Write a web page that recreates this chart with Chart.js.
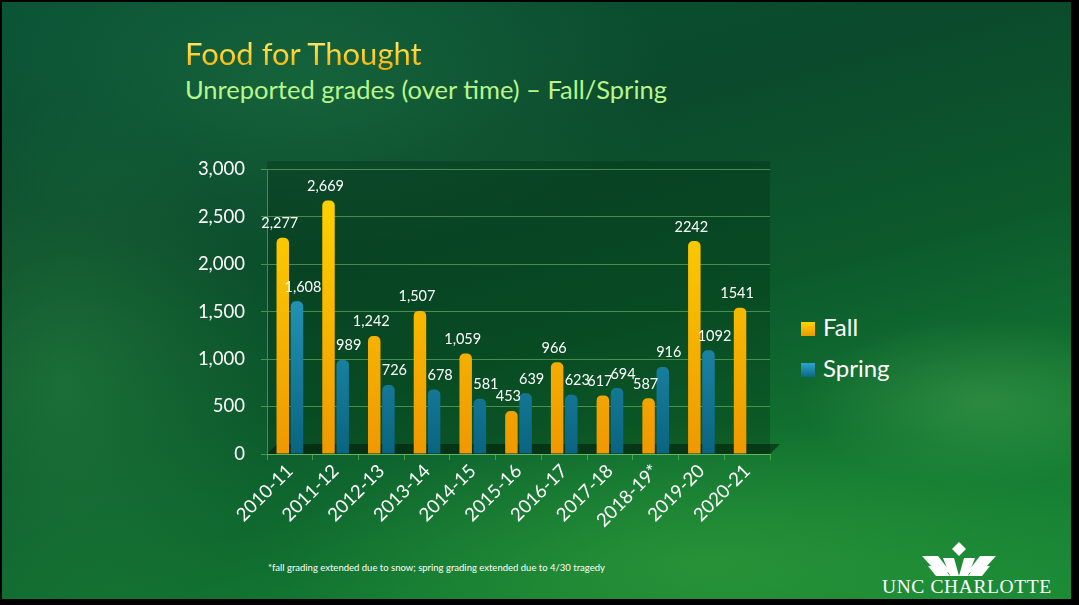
<!DOCTYPE html>
<html>
<head>
<meta charset="utf-8">
<script src="https://cdn.jsdelivr.net/npm/chart.js@4.4.0/dist/chart.umd.min.js"></script>
<style>
  html, body { margin: 0; padding: 0; background: #000; }
  #slide {
    position: absolute; left: 2px; top: 2px; width: 1069px; height: 597px; overflow: hidden;
    background:
      radial-gradient(ellipse 520px 260px at 300px 80px, rgba(40,140,80,0.35), rgba(0,0,0,0) 70%),
      radial-gradient(ellipse 600px 200px at 700px 560px, rgba(60,170,60,0.45), rgba(0,0,0,0) 70%),
      radial-gradient(ellipse 300px 400px at 60px 380px, rgba(50,150,70,0.4), rgba(0,0,0,0) 70%),
      radial-gradient(ellipse 260px 120px at 980px 400px, rgba(90,180,90,0.35), rgba(0,0,0,0) 70%),
      linear-gradient(165deg, #0a5236 0%, #0b4a2c 30%, #0c5a2c 55%, #137a32 80%, #1a8a36 100%);
    font-family: Lato, "Open Sans", sans-serif;
  }
  #title { position: absolute; left: 183px; top: 32px; font-size: 31px; color: #ffd23a;
    background: linear-gradient(180deg, #fff08a 0%, #ffd030 55%, #f0a400 100%);
    -webkit-background-clip: text; background-clip: text; -webkit-text-fill-color: transparent; }
  #subtitle { position: absolute; left: 183px; top: 72px; font-size: 25.5px; color: #b8f58c; }
  #wrap { position: absolute; left: 190px; top: 140px; width: 608px; height: 400px; }
  .leg { position: absolute; left: 799px; font-size: 24px; color: #fff; }
  .leg span { display: inline-block; width: 14px; height: 14px; margin-right: 8px; vertical-align: 0px; }
  #note { position: absolute; left: 266px; top: 560px; font-size: 9.5px; color: #fff; }
  #logo { position: absolute; left: 878px; top: 538px; width: 195px; height: 58px; }
  #logo div { position: absolute; left: 2px; top: 36px; font-family: "Liberation Serif", serif; font-size: 19.5px; color: #fff; letter-spacing: 0.6px; }
</style>
</head>
<body>
<div id="slide">
  <div id="title">Food for Thought</div>
  <div id="subtitle">Unreported grades (over time) – Fall/Spring</div>
  <div id="wrap"><canvas id="gradesChart"></canvas></div>
  <div class="leg" style="top:310px"><span style="background:linear-gradient(#ffd400,#e89a00)"></span>Fall</div>
  <div class="leg" style="top:351px"><span style="background:linear-gradient(#2aa6cc,#0b6784)"></span>Spring</div>
  <div id="note">*fall grading extended due to snow; spring grading extended due to 4/30 tragedy</div>
  <div id="logo">
    <svg width="195" height="38" viewBox="0 0 195 38">
      <polygon points="79,2 86,9 79,16 72,9" fill="#fff"/>
      <polygon points="63,18 74,18 79,36 70,36" fill="#fff"/>
      <polygon points="95,18 84,18 79,36 88,36" fill="#fff"/>
      <polygon points="42,16 58,16 72,34 52,27" fill="#fff"/>
      <polygon points="116,16 100,16 86,34 106,27" fill="#fff"/>
      <polygon points="48,26 62,26 70,36 56,36" fill="#fff"/>
      <polygon points="110,26 96,26 88,36 102,36" fill="#fff"/>
    </svg>
    <div>UNC CHARLOTTE</div>
  </div>
</div>

<script>
// chart data
const years = ['2010-11', '2011-12', '2012-13', '2013-14', '2014-15', '2015-16',
               '2016-17', '2017-18', '2018-19*', '2019-20', '2020-21'];
const fall = [2277, 2669, 1242, 1507, 1059, 453, 966, 617, 587, 2242, 1541];
const spring = [1608, 989, 726, 678, 581, 639, 623, 694, 916, 1092, null];
const yTicks = [0, 500, 1000, 1500, 2000, 2500, 3000];
const plainLabelsFrom = 9; // later years shown without thousands separator

function fmt(v, i) {
  return i >= plainLabelsFrom ? String(v) : v.toLocaleString('en-US');
}

function barGradient(ctx, top, bottom) {
  const area = ctx.chart.chartArea;
  if (!area) return top;
  const g = ctx.chart.ctx.createLinearGradient(0, area.top, 0, area.bottom);
  g.addColorStop(0, top);
  g.addColorStop(1, bottom);
  return g;
}

// darker back wall + floor strip
const wallPlugin = {
  id: 'wall',
  beforeDraw(chart) {
    const { ctx, chartArea: a } = chart;
    ctx.save();
    ctx.fillStyle = 'rgba(0, 35, 15, 0.28)';
    ctx.fillRect(a.left, a.top - 8, a.right - a.left, a.bottom - a.top + 8);
    ctx.fillStyle = 'rgba(0, 25, 10, 0.55)';
    ctx.beginPath();
    ctx.moveTo(a.left, a.bottom);
    ctx.lineTo(a.left + 10, a.bottom - 10);
    ctx.lineTo(a.right + 10, a.bottom - 10);
    ctx.lineTo(a.right, a.bottom);
    ctx.closePath();
    ctx.fill();
    ctx.restore();
  }
};

// value labels above the bars
const labelPlugin = {
  id: 'valueLabels',
  afterDatasetsDraw(chart) {
    const ctx = chart.ctx;
    ctx.save();
    ctx.font = '14.5px Lato, "Open Sans", sans-serif';
    ctx.fillStyle = '#ffffff';
    ctx.textAlign = 'center';
    ctx.textBaseline = 'bottom';
    chart.data.datasets.forEach((ds, di) => {
      const meta = chart.getDatasetMeta(di);
      meta.data.forEach((bar, i) => {
        const v = ds.data[i];
        if (v == null) return;
        const dx = di === 0 ? -3 : 6;
        ctx.fillText(fmt(v, i), bar.x + dx, bar.y - 7);
      });
    });
    ctx.restore();
  }
};

const data = {
  labels: years,
  datasets: [
    {
      label: 'Fall',
      data: fall,
      backgroundColor: c => barGradient(c, '#ffd800', '#f09800'),
      borderRadius: { topLeft: 5, topRight: 5 },
      borderSkipped: 'bottom'
    },
    {
      label: 'Spring',
      data: spring,
      backgroundColor: c => barGradient(c, '#36b8de', '#0a6480'),
      borderRadius: { topLeft: 5, topRight: 5 },
      borderSkipped: 'bottom'
    }
  ]
};

const gridColor = 'rgba(120, 200, 110, 0.55)';
const tickFont = { family: 'Lato, "Open Sans", sans-serif', size: 18.5 };

const config = {
  type: 'bar',
  data: data,
  options: {
    responsive: true,
    maintainAspectRatio: false,
    animation: false,
    categoryPercentage: 0.62,
    barPercentage: 0.88,
    layout: { padding: { top: 12, right: 30, left: 0, bottom: 0 } },
    plugins: {
      legend: { display: false },
      tooltip: { enabled: false }
    },
    scales: {
      x: {
        afterFit: s => { s.height = 88; },
        grid: { drawOnChartArea: false, drawTicks: true, tickLength: 6, color: gridColor },
        border: { color: gridColor },
        ticks: {
          color: '#ffffff',
          font: tickFont,
          minRotation: 45,
          maxRotation: 45,
          padding: 0
        }
      },
      y: {
        min: 0,
        max: 3000,
        afterFit: s => { s.width = 75; },
        afterBuildTicks: s => { s.ticks = yTicks.map(v => ({ value: v })); },
        grid: { color: gridColor, tickLength: 6 },
        border: { color: gridColor },
        ticks: {
          color: '#ffffff',
          font: tickFont,
          padding: 16,
          callback: v => v.toLocaleString('en-US')
        }
      }
    }
  },
  plugins: [wallPlugin, labelPlugin]
};

const ctx = document.getElementById('gradesChart').getContext('2d');
new Chart(ctx, config);
</script>
</body>
</html>
